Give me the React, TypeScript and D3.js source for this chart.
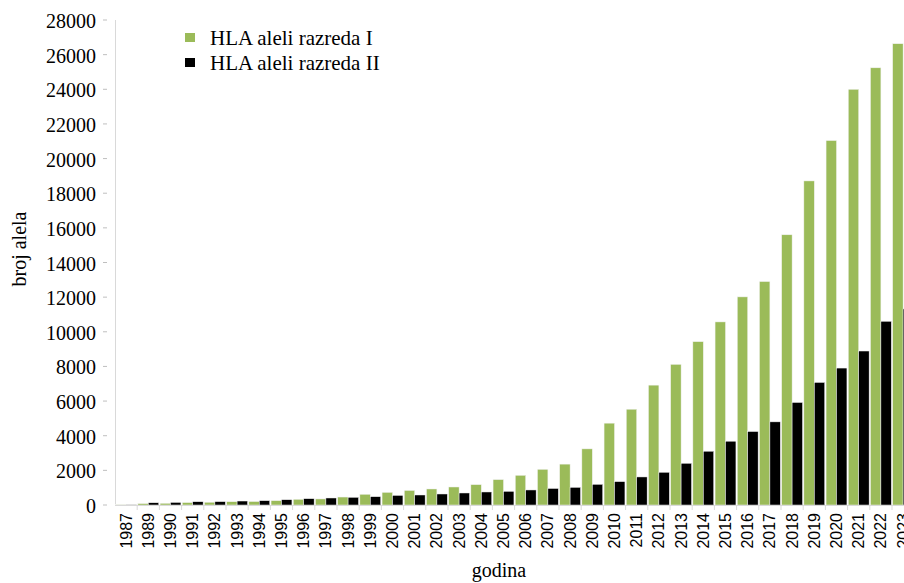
import React from "react";
import * as d3 from "d3";

const years: string[] = [
  "1987", "1989", "1990", "1991", "1992", "1993", "1994", "1995", "1996", "1997",
  "1998", "1999", "2000", "2001", "2002", "2003", "2004", "2005", "2006", "2007",
  "2008", "2009", "2010", "2011", "2012", "2013", "2014", "2015", "2016", "2017",
  "2018", "2019", "2020", "2021", "2022", "2023",
];

const classI: number[] = [
  20, 80, 100, 140, 160, 190, 200, 250, 330, 350,
  460, 620, 730, 840, 925, 1040, 1175, 1465, 1715, 2060,
  2360, 3240, 4725, 5530, 6920, 8120, 9430, 10570, 12015, 12900,
  15600, 18710, 21040, 24000, 25240, 26630,
];

const classII: number[] = [
  10, 130, 150, 190, 195, 230, 250, 305, 365, 405,
  445, 480, 555, 578, 636, 694, 752, 790, 868, 955,
  1020, 1195, 1350, 1620, 1890, 2410, 3105, 3683, 4242, 4800,
  5920, 7077, 7906, 8890, 10607, 11320,
];

const seriesNames: string[] = ["HLA aleli razreda I", "HLA aleli razreda II"];
const seriesColors: string[] = ["#9BBB59", "#000000"];
const yTicks: number[] = [0, 2000, 4000, 6000, 8000, 10000, 12000, 14000, 16000, 18000, 20000, 22000, 24000, 26000, 28000];

const W = 904;
const H = 583;
const left = 115;
const step = 22.2;
const y0 = 505;
const yTop = 20;

export default function App() {
  const x = d3
    .scaleBand<string>()
    .domain(years)
    .range([left, left + step * years.length])
    .paddingInner(0.06)
    .paddingOuter(0.03);
  const sub = d3.scaleBand<number>().domain([0, 1]).range([0, x.bandwidth()]).padding(0);
  const y = d3.scaleLinear().domain([0, 28000]).range([y0, yTop]);
  const serif = "'Liberation Serif', 'Times New Roman', serif";
  const narrow = "'Liberation Sans Narrow', 'Arial Narrow', 'Liberation Sans', sans-serif";
  const series = [classI, classII];
  const axisColor = "#d9d9d9";

  return (
    <svg width={W} height={H} style={{ position: "absolute", left: 0, top: 0, background: "#fff" }}>
      <rect x={0} y={0} width={W} height={H} fill="#fff" />
      {/* y axis */}
      <line x1={left + 0.5} x2={left + 0.5} y1={y(28000)} y2={y0} stroke={axisColor} strokeWidth={1} />
      {yTicks.map((t) => (
        <g key={t}>
          <line x1={103} x2={107} y1={y(t)} y2={y(t)} stroke="#bfbfbf" strokeWidth={1} />
          <text x={96} y={y(t) + 8} textAnchor="end" fontFamily={serif} fontSize={20} fill="#000">
            {t}
          </text>
        </g>
      ))}
      {/* bars */}
      {series.map((vals, si) =>
        years.map((yr, i) => {
          const bx = (x(yr) as number) + (sub(si) as number);
          const by = y(vals[i]);
          return (
            <rect
              key={`${si}-${yr}`}
              x={bx}
              y={by}
              width={sub.bandwidth()}
              height={y0 - by}
              fill={seriesColors[si]}
              stroke="#f2f2f2"
              strokeWidth={0.5}
            />
          );
        })
      )}
      {/* x axis */}
      <line x1={left} x2={W} y1={y0 + 0.5} y2={y0 + 0.5} stroke={axisColor} strokeWidth={1} />
      {years.map((yr, i) => (
        <line
          key={`t-${yr}`}
          x1={left + step * (i + 1)}
          x2={left + step * (i + 1)}
          y1={y0}
          y2={y0 + 5}
          stroke={axisColor}
          strokeWidth={1}
        />
      ))}
      {years.map((yr) => {
        const cx = (x(yr) as number) + x.bandwidth() / 2;
        return (
          <text
            key={`l-${yr}`}
            transform={`translate(${cx + 5.5},513) rotate(-90)`}
            textAnchor="end"
            fontFamily={narrow}
            fontSize={16}
            fill="#000"
          >
            {yr}
          </text>
        );
      })}
      {/* axis titles */}
      <text
        transform="translate(26,249) rotate(-90)"
        textAnchor="middle"
        fontFamily={serif}
        fontSize={20}
        fill="#000"
      >
        broj alela
      </text>
      <text x={499} y={577} textAnchor="middle" fontFamily={serif} fontSize={20} fill="#000">
        godina
      </text>
      {/* legend */}
      {seriesNames.map((n, i) => (
        <g key={n}>
          <rect x={185} y={33 + i * 25} width={10} height={9} fill={seriesColors[i]} />
          <text x={210} y={45 + i * 25} fontFamily={serif} fontSize={21} fill="#000">
            {n}
          </text>
        </g>
      ))}
    </svg>
  );
}
